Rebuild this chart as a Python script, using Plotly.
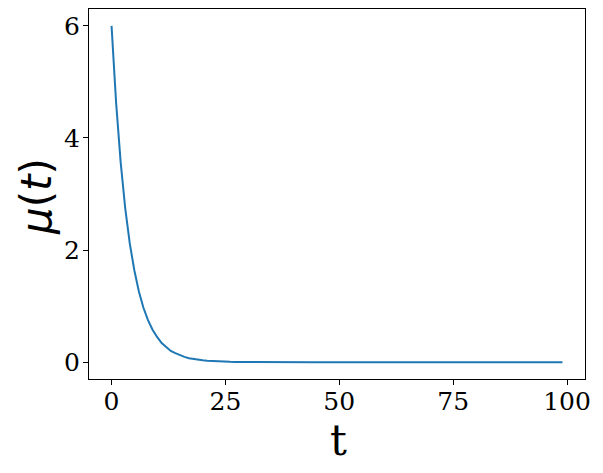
import plotly.graph_objects as go

t_values = list(range(100))
mu_head = [6.00, 4.63, 3.57, 2.75, 2.12, 1.64, 1.26, 0.97, 0.75, 0.58,
           0.45, 0.34, 0.27, 0.20, 0.16, 0.12, 0.094, 0.072, 0.056, 0.043,
           0.033, 0.026, 0.020, 0.015, 0.012, 0.009, 0.007, 0.005, 0.004, 0.003,
           0.002, 0.002, 0.001, 0.001, 0.001]
mu_values = mu_head + [0.0] * (len(t_values) - len(mu_head))

x_ticks = [0, 25, 50, 75, 100]
y_ticks = [0, 2, 4, 6]

fig = go.Figure(go.Scatter(x=t_values, y=mu_values, mode="lines",
                           line=dict(color="#1f77b4", width=2)))

axis_common = dict(showgrid=False, zeroline=False, showline=True, linecolor="black",
                   linewidth=1, mirror=True, ticks="outside", ticklen=5, tickwidth=1,
                   tickcolor="black", automargin=False,
                   tickfont=dict(family="DejaVu Serif", size=25, color="black"))

L, R, T, B = 89, 585, 9, 379
W, H = R - L, B - T

fig.update_layout(
    width=603, height=473,
    margin=dict(l=L, r=603 - R, t=T, b=473 - B),
    paper_bgcolor="white", plot_bgcolor="white",
    showlegend=False,
    xaxis=dict(range=[-4.95, 103.95], tickvals=x_ticks, ticklabelstandoff=-5, **axis_common),
    yaxis=dict(range=[-0.3, 6.3], tickvals=y_ticks, ticklabelstandoff=-2, **axis_common),
    annotations=[
        dict(text="t", xref="paper", yref="paper", x=(338 - L) / W, y=(B - 440) / H,
             xanchor="center", yanchor="middle", showarrow=False,
             font=dict(family="DejaVu Serif", size=42, color="black")),
        dict(text="<i>μ</i>(<i>t</i>)", xref="paper", yref="paper", x=(37 - L) / W,
             y=(B - 197) / H, xanchor="center", yanchor="middle", textangle=-90,
             showarrow=False, font=dict(family="DejaVu Sans", size=42, color="black")),
    ],
)

fig.write_html("out.html", config={"displayModeBar": False},
               post_script="document.body.style.margin='0';document.body.style.overflow='hidden';")
